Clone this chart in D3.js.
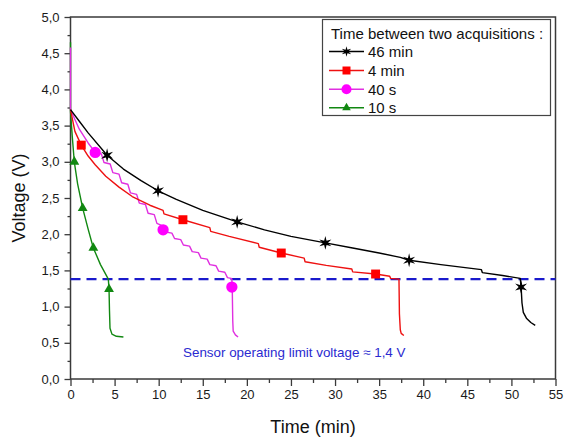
<!DOCTYPE html>
<html><head><meta charset="utf-8">
<script src="https://cdn.jsdelivr.net/npm/d3@7/dist/d3.min.js"></script>
<style>
html,body{margin:0;padding:0;background:#fff;}
svg{display:block;font-family:"Liberation Sans",Arial,sans-serif;}
</style></head>
<body>
<svg id="chart" width="566" height="439"></svg>
<script>
// ---------- data ----------
const xTicks = [0,5,10,15,20,25,30,35,40,45,50,55];
const xTickLabels = ["0","5","10","15","20","25","30","35","40","45","50","55"];
const xMinorTicks = [2.5,7.5,12.5,17.5,22.5,27.5,32.5,37.5,42.5,47.5,52.5];
const yTicks = [0,0.5,1,1.5,2,2.5,3,3.5,4,4.5,5];
const yTickLabels = ["0,0","0,5","1,0","1,5","2,0","2,5","3,0","3,5","4,0","4,5","5,0"];
const yMinorTicks = [0.25,0.75,1.25,1.75,2.25,2.75,3.25,3.75,4.25,4.75];

const seriesNames = ["46 min","4 min","40 s","10 s"];
const legendTitle = "Time between two acquisitions :";
const limitVoltage = 1.38;
const limitLabel = "Sensor operating limit voltage \u2248 1,4 V";

// 46 min (black)
const blackT = [0,1,2,4.15,6,8,9.93,12,15,18.9,22,25,28.9,32,35,37.4,38.4,42,46.6,46.7,49,51.0,51.1,51.2,51.35,51.7,52.2,52.7];
const blackV = [3.72,3.56,3.40,3.09,2.90,2.74,2.60,2.48,2.33,2.17,2.06,1.97,1.88,1.81,1.74,1.68,1.64,1.58,1.51,1.47,1.43,1.39,1.27,1.05,0.92,0.84,0.78,0.74];
const blackMarkT = [4.15,9.93,18.9,28.9,38.4,51.1];
const blackMarkV = [3.09,2.60,2.17,1.88,1.64,1.27];

// 4 min (red)
const redT = [0,0.5,1.22,2,2.8,4,5.5,7,9,10.5,10.6,12.75,15.8,15.9,18,21.3,21.4,23.9,26.5,26.6,29,31.9,32.0,34.6,36.2,36.3,37.25,37.3,37.4,37.5,37.8];
const redV = [3.72,3.42,3.23,3.08,2.96,2.80,2.65,2.52,2.40,2.33,2.28,2.20,2.09,2.04,1.97,1.87,1.82,1.74,1.67,1.62,1.57,1.52,1.48,1.45,1.42,1.39,1.38,0.90,0.68,0.63,0.60];
const redMarkT = [1.22,12.75,23.9,34.6];
const redMarkV = [3.23,2.20,1.74,1.45];

// 40 s (magenta)
const magT = [0,0,1,2,2.8,3.5,3.8,4.5,4.8,5.5,5.8,6.5,6.8,7.5,7.8,8.5,8.8,9.5,9.8,10.5,10.8,11.5,11.8,12.5,12.8,13.5,13.8,14.5,14.8,15.5,15.8,16.5,16.8,17.5,17.8,18.2,18.3,18.35,18.4,18.45,18.7,19.0];
const magV = [4.58,3.72,3.45,3.26,3.13,3.11,2.99,2.97,2.85,2.83,2.71,2.69,2.57,2.55,2.43,2.41,2.29,2.27,2.15,2.11,2.03,2.015,1.94,1.925,1.85,1.835,1.76,1.745,1.67,1.655,1.58,1.565,1.49,1.475,1.40,1.39,1.38,1.20,0.80,0.66,0.61,0.58];
const magMarkT = [2.8,10.5,18.3];
const magMarkV = [3.13,2.06,1.27];

// 10 s (green)
const greenT = [0,0,0.2,0.43,0.8,1.38,2.0,2.59,3.4,4.29,4.37,4.42,4.48,4.7,5.2,6.0];
const greenV = [4.65,3.70,3.35,3.00,2.70,2.36,2.07,1.81,1.58,1.38,1.24,0.95,0.70,0.62,0.59,0.58];
const greenMarkT = [0.43,1.38,2.59,4.37];
const greenMarkV = [3.00,2.36,1.81,1.24];

// ---------- drawing ----------
const svg = d3.select("#chart");
const L = 70.5, R = 555.5, T = 17, B = 379;
const x = d3.scaleLinear().domain([0,55]).range([L,R]);
const y = d3.scaleLinear().domain([0,5]).range([B,T]);
const axisColor = "#3a3a3a";

const star6 = {
  draw(ctx, size){
    const r = Math.sqrt(size)*0.8, ri = r*0.35;
    for(let i=0;i<12;i++){
      const a = -Math.PI/2 + i*Math.PI/6;
      const rr = i%2===0 ? r : ri;
      const px = rr*Math.cos(a), py = rr*Math.sin(a);
      if(i===0) ctx.moveTo(px,py); else ctx.lineTo(px,py);
    }
    ctx.closePath();
  }
};

const series = [
  {name:seriesNames[0], color:"#000000", t:blackT, v:blackV, mt:blackMarkT, mv:blackMarkV, sym:star6, size:75, lsize:45},
  {name:seriesNames[1], color:"#ff0000", t:redT, v:redV, mt:redMarkT, mv:redMarkV, sym:d3.symbolSquare, size:80, lsize:64},
  {name:seriesNames[2], color:"#ff00ff", t:magT, v:magV, mt:magMarkT, mv:magMarkV, sym:d3.symbolCircle, size:100, lsize:80},
  {name:seriesNames[3], color:"#118811", t:greenT, v:greenV, mt:greenMarkT, mv:greenMarkV, sym:d3.symbolTriangle, size:42, lsize:32}
];
const lineColors = ["#000000","#ee1111","#e030e0","#118811"];

// axes
const xAxis = d3.axisBottom(x).tickValues(xTicks).tickSize(7).tickPadding(4)
  .tickFormat((d,i)=>xTickLabels[i]);
svg.append("g").attr("transform",`translate(0,${B})`).call(xAxis);
svg.append("g").attr("transform",`translate(0,${B})`)
  .call(d3.axisBottom(x).tickValues(xMinorTicks).tickSize(4).tickFormat(""));
const yAxis = d3.axisLeft(y).tickValues(yTicks).tickSize(6).tickPadding(5)
  .tickFormat((d,i)=>yTickLabels[i]);
svg.append("g").attr("transform",`translate(${L},0)`).call(yAxis);
svg.append("g").attr("transform",`translate(${L},0)`)
  .call(d3.axisLeft(y).tickValues(yMinorTicks).tickSize(3).tickFormat(""));
svg.selectAll(".domain").remove();
svg.selectAll(".tick line").attr("stroke",axisColor).attr("stroke-width",1.3);
svg.selectAll(".tick text").attr("fill","#1a1a1a").style("font-size","13px")
  .style("font-family","'Liberation Sans',Arial,sans-serif");

// frame
svg.append("rect").attr("x",L).attr("y",T).attr("width",R-L).attr("height",B-T)
  .attr("fill","none").attr("stroke",axisColor).attr("stroke-width",1.5);

// limit line
svg.append("line").attr("x1",x(0)).attr("x2",x(55)).attr("y1",y(limitVoltage)).attr("y2",y(limitVoltage))
  .attr("stroke","#1a1acc").attr("stroke-width",2.2).attr("stroke-dasharray","10,6");

// series lines & markers (draw in reverse so black on top)
const line = d3.line().x(d=>x(d[0])).y(d=>y(d[1]));
series.slice().reverse().forEach((s)=>{
  const idx = series.indexOf(s);
  const pts = s.t.map((t,i)=>[t,s.v[i]]);
  svg.append("path").datum(pts).attr("d",line).attr("fill","none")
    .attr("stroke",lineColors[idx]).attr("stroke-width",1.4).attr("stroke-linejoin","round");
});
series.slice().reverse().forEach((s)=>{
  const mp = s.mt.map((t,i)=>[t,s.mv[i]]);
  svg.append("g").selectAll("path").data(mp).join("path")
    .attr("transform",d=>`translate(${x(d[0])},${y(d[1])})`)
    .attr("d",d3.symbol().type(s.sym).size(s.size))
    .attr("fill",s.color);
});

// limit label
svg.append("text").attr("x",183).attr("y",357).text(limitLabel)
  .attr("fill","#2a2ad0").style("font-size","13.4px");

// axis titles
svg.append("text").attr("x",(L+R)/2).attr("y",433).attr("text-anchor","middle")
  .text("Time (min)").attr("fill","#111").style("font-size","18px");
svg.append("text").attr("transform",`translate(25,${(T+B)/2}) rotate(-90)`).attr("text-anchor","middle")
  .text("Voltage (V)").attr("fill","#111").style("font-size","18px");

// legend
const lg = svg.append("g");
lg.append("rect").attr("x",322.5).attr("y",19.5).attr("width",228).attr("height",96)
  .attr("fill","#fff").attr("stroke","#444").attr("stroke-width",1.2);
lg.append("text").attr("x",331).attr("y",39).text(legendTitle).attr("fill","#111").style("font-size","15px");
const rowY = [51.5,70.5,89.3,107.7];
series.forEach((s,i)=>{
  lg.append("line").attr("x1",329).attr("x2",364).attr("y1",rowY[i]).attr("y2",rowY[i])
    .attr("stroke",lineColors[i]).attr("stroke-width",1.4);
  lg.append("path").attr("transform",`translate(346.5,${rowY[i]})`)
    .attr("d",d3.symbol().type(s.sym).size(s.lsize)).attr("fill",s.color);
  lg.append("text").attr("x",368).attr("y",rowY[i]+5.5).text(s.name).attr("fill","#111").style("font-size","15px");
});
</script>
</body></html>
